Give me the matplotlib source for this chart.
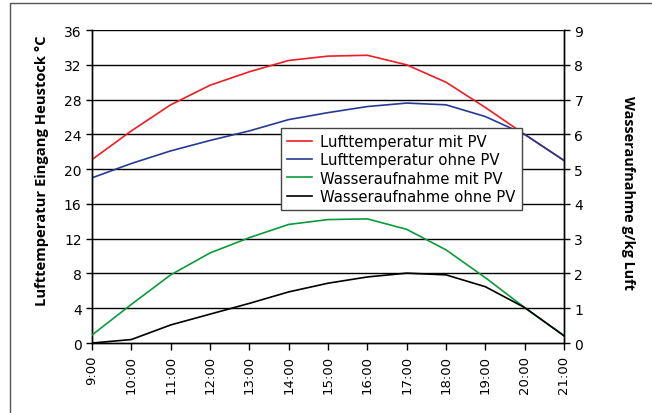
# Lufttemperatur und Wasseraufnahme am Eingang Heustock, mit und ohne PV

import matplotlib.pyplot as plt
from matplotlib.patches import Rectangle

plt.rcParams['font.family'] = ['DejaVu Sans']

# Stunden des Tages
hours = ["9:00", "10:00", "11:00", "12:00", "13:00", "14:00", "15:00",
         "16:00", "17:00", "18:00", "19:00", "20:00", "21:00"]

# Lufttemperatur in °C (linke Achse)
temp_mit_pv = [21.1, 24.4, 27.4, 29.65, 31.2, 32.5, 33.0, 33.1, 32.0, 30.0, 27.1, 24.0, 21.0]
temp_ohne_pv = [19.0, 20.65, 22.1, 23.3, 24.4, 25.7, 26.5, 27.2, 27.6, 27.4, 26.05, 24.0, 21.0]

# Wasseraufnahme in g/kg Luft (rechte Achse)
wasser_mit_pv = [0.23, 1.11, 1.96, 2.59, 3.03, 3.41, 3.55, 3.57, 3.27, 2.68, 1.88, 1.02, 0.21]
wasser_ohne_pv = [0.0, 0.1, 0.52, 0.83, 1.14, 1.47, 1.72, 1.9, 2.01, 1.96, 1.62, 1.02, 0.21]

x = list(range(len(hours)))

fig = plt.figure(figsize=(6.52, 4.14), dpi=100)
ax = fig.add_axes([0.1411, 0.169, 0.7239, 0.756])
ax2 = ax.twinx()

# Rahmen um die ganze Grafik
fig.patches.append(Rectangle((10 / 652, -0.1), 1.2, 1 - 4 / 414 + 0.1,
                             transform=fig.transFigure, fill=False,
                             edgecolor="#555555", linewidth=1.0))

# Gitterlinien
for v in range(4, 37, 4):
    ax.axhline(v, color="black", linewidth=1.0, zorder=1)

l1, = ax.plot(x, temp_mit_pv, color="#ee1c25", linewidth=1.2, label="Lufttemperatur mit PV", zorder=3)
l2, = ax.plot(x, temp_ohne_pv, color="#253a94", linewidth=1.2, label="Lufttemperatur ohne PV", zorder=3)
l3, = ax2.plot(x, wasser_mit_pv, color="#0a9a3c", linewidth=1.2, label="Wasseraufnahme mit PV", zorder=3)
l4, = ax2.plot(x, wasser_ohne_pv, color="black", linewidth=1.2, label="Wasseraufnahme ohne PV", zorder=3)

ax.set_xlim(0, len(hours) - 1)
ax.set_ylim(0, 36)
ax.set_yticks(range(0, 37, 4))
ax2.set_ylim(0, 9)
ax2.set_yticks(range(0, 10))

ax.set_xticks(x)
ax.set_xticklabels(hours, rotation=90, fontsize=9.5)
ax.tick_params(axis="y", labelsize=10, length=4, width=1)
ax.tick_params(axis="x", length=5, width=1)
ax2.tick_params(axis="y", labelsize=10, length=4, width=1)

for a in (ax, ax2):
    a.spines["top"].set_visible(False)
    for s in ("left", "right", "bottom"):
        a.spines[s].set_linewidth(1.0)

ax.set_ylabel("Lufttemperatur Eingang Heustock °C", fontsize=10.6, fontweight="bold",
              family=["Open Sans", "DejaVu Sans"], labelpad=11, y=0.553)
ax2.set_ylabel("Wasseraufnahme g/kg Luft", fontsize=10.4, fontweight="bold",
               family=["Open Sans", "DejaVu Sans"], rotation=-90, labelpad=37, y=0.484)

leg = ax.legend(handles=[l1, l2, l3, l4], loc="upper left",
                bbox_to_anchor=((281 - 92) / 472, (344 - 129) / 313),
                fontsize=10.7, frameon=True, fancybox=False, framealpha=1,
                edgecolor="#444444", borderpad=0.4, labelspacing=0.22,
                handlelength=1.7, handletextpad=0.55, borderaxespad=0)
leg.get_frame().set_linewidth(1.0)
leg.set_zorder(5)

plt.savefig("out.png", dpi=100)
plt.close()
